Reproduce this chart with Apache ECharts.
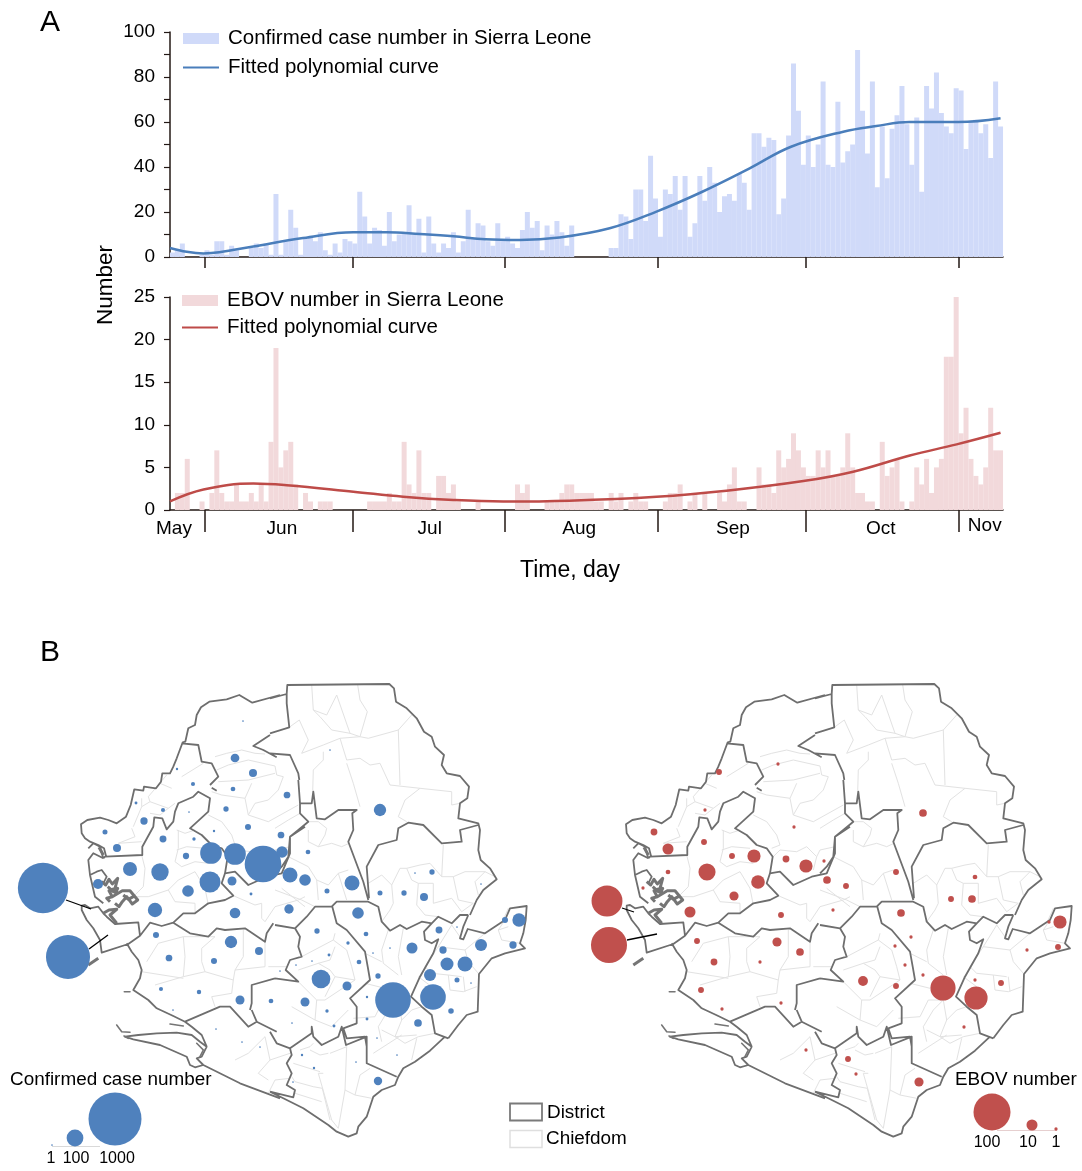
<!DOCTYPE html>
<html><head><meta charset="utf-8">
<style>html,body{margin:0;padding:0;background:#fff}#c{width:1082px;height:1171px}</style>
<script src="https://cdn.jsdelivr.net/npm/echarts@6/dist/echarts.min.js"></script>
</head><body><div id="c"></div>
<script>
// ---------- time-series data (one value per day, 25 May - 9 Nov) ----------
const confirmedCases = [2,3,6,0,0,0,1,3,1,7, 7,1,5,3,0,0,4,6,4,6, 1,28,1,7,21,13,1,8,9,7, 11,3,1,6,2,8,7,6,29,18,
 6,13,12,5,20,7,10,11,23,10, 17,2,18,6,2,6,4,11,2,7, 21,8,15,14,7,5,15,8,9,6, 4,12,20,13,16,3,14,10,16,11,
 5,14,0,0,0,0,0,0,0,4, 4,19,18,8,30,30,16,45,26,9, 30,28,36,21,36,9,15,36,25,40, 33,20,27,28,25,37,33,21,55,55,
 49,53,52,19,26,54,86,65,41,54, 40,50,78,41,40,69,42,47,50,92, 65,46,78,31,58,35,57,63,76,59,
 41,62,29,76,66,82,64,58,55,75, 74,48,60,61,55,59,44,78,58];
const ebovCounts = [0,2,2,6,0,0,1,0,2,7, 2,1,1,3,1,1,2,1,3,1, 8,19,5,7,8,3,0,2,1,0, 1,1,1,0,0,0,0,0,0,0,
 1,1,1,1,2,1,1,8,3,2, 7,2,2,0,4,4,2,3,1,0, 0,0,1,0,0,0,0,0,0,0, 3,2,3,0,0,0,1,1,1,2,
 3,3,2,2,2,2,1,1,0,2, 1,2,0,1,2,1,1,0,0,0, 1,2,2,3,0,1,2,0,2,0, 0,2,1,3,5,1,1,0,0,5,
 3,3,2,7,5,6,9,7,5,4, 4,7,5,7,4,4,5,9,5,2, 2,1,1,0,8,4,5,6,1,0, 1,5,3,6,2,5,6,18,18,25, 9,12,6,4,3,5,12,7,7];
const caseCurveDays = [0,3.4,6.8,10,16.9,27,37.2,44,50.7,57.5,64,71,79,89.2,98.7,108,117.6,126,136.6,143.3,150,160,168.5];
const caseCurveVals = [4,2.3,1.6,2.1,4.7,8.4,11,11,10.2,9.2,7.9,7.6,8.7,12.8,20.2,29,39.4,49,55.7,58.2,60,60,61.7];
const ebovCurveDays = [0,6.8,16.9,23.7,37.2,47.3,57.5,67.6,81,98.7,112.9,128.5,138.6,150.1,159.6,168.5];
const ebovCurveVals = [1,2.4,3.1,2.9,2.15,1.56,1.17,1,1.1,1.56,2.27,3.4,4.5,6.4,7.7,9.06];
const monthBoundaries = [7,37,68,99,129,160];
const monthLabels = ['May','Jun','Jul','Aug','Sep','Oct','Nov'];
const monthLabelDays = [0.8,22.7,52.7,83,114.2,144.2,165.3];

// ---------- map bubbles: [map x, map y, count] ----------
const caseSites = [[43,888,900],[68,957,690],[243,721,1],[235,758,27],[253,773,23],[233,789,8],[177,769,2],[193,784,6],[136,803,3],[226,809,10],[163,810,6],[189,812,1],[144,821,19],[248,827,13],[214,831,2],[105,832,9],[281,835,16],[163,839,17],[194,839,4],[117,848,23],[186,856,14],[211,853,167],[235,854,167],[263,864,478],[130,869,70],[160,872,107],[98,884,36],[210,882,157],[232,881,29],[188,891,48],[251,894,3],[155,910,73],[235,913,40],
[380,810,54],[330,750,1],[287,795,16],[282,852,48],[308,852,8],[290,875,80],[305,880,48],[352,883,80],[327,891,9],[380,893,9],[404,893,10],[424,897,23],[432,872,10],[415,873,1],[481,884,1],[289,909,31],[358,913,48],
[156,935,13],[169,958,16],[231,942,54],[259,951,23],[214,961,13],[161,989,6],[199,992,7],[240,1000,29],[271,1001,8],[173,1010,1],[216,1029,1],[242,1042,1],[260,1047,1],
[317,931,10],[366,934,8],[348,943,4],[329,955,3],[312,961,1],[296,965,1],[280,971,1],[321,979,124],[347,986,29],[359,962,8],[373,953,1],[390,948,1],[412,948,43],[439,930,17],[457,927,1],[443,950,19],[447,964,60],[465,964,80],[481,945,51],[505,920,13],[519,920,63],[513,945,19],[430,975,51],[457,980,9],[471,983,1],[378,976,10],[393,1000,452],[433,997,234],[367,997,2],[305,1002,29],[327,1011,4],[451,1011,11],[367,1019,3],[418,1023,21],[334,1026,3],[292,1023,1],[377,1038,1],[302,1055,2],[397,1055,1],[356,1062,1],[314,1068,2],[293,1082,1],[378,1081,25]];
const caseKey = [[52,1145,1],[75,1138,100],[115,1119,1000]];
const ebovSites = [[62,901,71],[64,945,95],[174,772,3],[233,764,1],[109,832,4],[160,810,1],[123,849,10],[159,842,3],[249,827,1],[187,856,3],[209,856,14],[241,859,4],[261,866,14],[279,861,1],[162,872,23],[123,872,2],[98,888,1],[282,880,5],[301,886,3],[213,882,15],[189,896,7],[145,912,10],[236,915,3],[288,910,1],[152,941,3],[232,942,7],[255,952,5],[169,962,4],[215,962,1],[156,990,3],[236,1003,1],[177,1009,1],
[378,813,5],[351,872,3],[430,877,2],[406,899,3],[427,899,5],[356,913,5],[515,922,14],[504,922,1],[513,947,3],[482,950,1],[366,937,1],[350,946,1],[360,965,1],[378,975,1],[318,981,8],[351,986,3],[398,988,48],[431,998,41],[430,980,1],[456,983,3],[419,1027,1],[261,1050,1],[303,1059,3],[311,1074,1],[374,1082,7]];
const ebovKey = [[447,1112,100],[487,1125,10],[511,1129,1]];
const caseLeaders = [[[66,900],[91,909]],[[89,949],[108,935]]];
const ebovLeaders = [[[77,908],[89,912]],[[82,940],[112,934]]];
const caseKeyBase = [[[52,1146],[100,1146]]];
const ebovKeyBase = [[[452,1130],[512,1130]]];

// ---------- map outlines, traced in sheet units: [sheet, x,y,x,y,...] ----------
const sheetOrigin = {5:[0,670],6:[270,670],7:[0,910],8:[270,910],9:[35,740],10:[275,780],11:[235,1030]};
const districtLines = [
[5,318,558,312,535,295,525,270,515,255,505,245,490,243,463,262,450,300,443,325,450,350,460,378,440,392,405,403,358,430,362,432,350,468,355,483,335,487,310,510,310,520,290,530,265,548,217,556,215,565,175,585,165,590,135,603,112,628,95,680,88,718,75,757,98,840,75],
[6,0,85,50,72,52,45,358,42,372,55,378,95,410,115,440,145,462,185,485,200,495,230,522,255,515,285,530,310,570,318,597,350,592,385,570,400,565,445,625,460,630,480,625,540,632,570,660,595,680,628,640,660,620,690,600,735],
[10,580,405,565,440,555,475,565,478,578,447,630,460,690,420,705,385,755,378,752,420,745,460,735,490,750,505,690,520,650,535,612,582,608,695,575,705,550,735,520,775],
[8,525,380,480,422,435,455,400,475,385,500,375,525,335,540,310,560,300,590,290,620,265,650,260,670,235,680,200,665,175,645,100,595,40,565,0,545],
[7,840,565,720,520,610,465,585,472,570,465,560,440,480,405,400,388,375,380,415,375,470,370,530,368,575,375,600,395,620,410,605,440,590,445,610,465],
[7,620,410,605,375,575,350,555,335,520,318,470,295,445,270,400,240,420,205,425,180,415,150,395,125,380,100],
[9,315,587,280,612,200,638,195,600,175,565,155,540,140,510,140,497,150,495,165,505,190,500,205,520,215,530,240,552,310,547,315,587,345,548,380,558,415,548,465,580,520,590,545,565,570,570,630,565,690,605,695,580,715,550],
[9,205,355,210,350,322,345,322,320,355,260,358,232,382,235,395,268,415,245,420,215,430,190,475,170,490,155,525,175,520,215,465,265,500,285,530,315,560,325,578,350,570,400,560,430,595,467,570,480,520,490,480,520,445,520,415,548],
[9,440,10,490,15,500,65,530,70,550,110,525,135],
[9,530,143,545,152],
[9,205,355,195,320,175,310,160,325],
[9,205,355,175,340,160,360,165,405,180,470,205,490],
[9,165,405,185,395,200,390,215,410,205,430],
[9,570,400,600,395,640,435,695,410,740,400,765,340,765,290,810,260],
[10,0,280,20,260,40,230,45,170,70,150,100,125,75,100,75,70,70,0],
[6,0,250,60,255,85,310,88,330],
[5,810,195,760,228,790,240,830,262],
[6,50,72,50,100,58,172,0,190],
[10,75,70,110,70,115,35,125,115,150,118,190,90,245,90,232,100,235,150,220,185,265,305,280,360],
[10,282,355,275,260,310,195,365,180,370,145,400,128,445,135,500,190,560,185,555,150,610,135],
[10,0,435,60,445,95,410,120,380,170,380,185,365,280,365,310,380,320,425,345,452,375,435,395,447,440,425,470,430,490,410,530,430,555,405,580,405],
[10,60,445,75,470,70,500,80,530,45,540,32,570,70,605,0,595],
[9,720,715,650,735,650,790,645,810],
[7,755,300,770,335,745,350,690,290,660,290,555,335],
[7,770,335,830,365],
[8,0,365,20,400,60,415,65,435,50,460,65,490,50,525,75,540,70,562,0,545],
[8,60,415,125,370,125,350,130,380,155,405,205,380,215,350,228,405,290,380,290,460,380,500],
[10,172,380,185,430,215,450,270,515,278,560,285,600,225,655,245,680,245,730,205,745,215,775,270,770,275,800],
[10,470,430,447,455,450,480,470,490,490,478,475,520,435,590,408,650,440,680,470,705,480,760,520,775]
];
const mangroveLines = [
[9,200,425,212,435,222,418,232,432,248,415,240,445,222,452,232,470,215,475,225,485],
[9,218,440,235,455,248,445,240,462],
[9,232,470,262,452,285,452,308,480,292,492,275,470,262,485,252,500,240,490],
[9,265,465,280,478,295,470],
[9,205,520,222,510,245,508,225,525,245,550],
[9,160,675,190,655],
[9,192,322,205,345]
];
const isletLines = [
[7,350,345,365,365,390,367],[7,372,378,385,385],[7,510,342,550,348],[7,590,400,610,420,600,440],[9,268,755,285,755]
];
const chiefdomLines = [
[9,545,90,580,75,640,60,720,78,725,105,745,110,730,150,700,180,660,190,640,225,630,175,560,165,530,155],
[9,550,125,640,120,720,100],[9,630,175,650,130],[9,520,225,560,245,590,285,600,315,575,325],
[9,640,225,700,245,790,195],[9,580,350,600,330,650,335,680,320,710,350,720,330,765,320],[9,710,350,700,390],
[9,540,50,575,40,620,30,660,40,690,42],
[9,320,345,330,385,325,440,300,465],[9,425,270,450,280,480,270],[9,430,270,430,325,420,365,440,380,480,365,520,370],[9,425,330,455,320,510,325],
[9,480,395,430,420,400,450,340,470,295,470],[9,480,395,510,445,520,495],[9,400,450,420,485,480,490,480,520],
[9,250,310,320,305],[9,290,265,300,290,250,310],[9,320,175,320,200,295,260],[9,320,200,345,185,400,205,375,225,345,220],[9,395,105,340,170,345,185],[9,440,110,505,70],[9,410,145,375,130],[9,400,205,420,190],
[9,335,665,370,610,445,590,450,650,445,710,360,735],[9,320,695,445,715],[9,445,590,540,590,500,625,500,665,510,695,445,710],[9,510,695,595,720,600,690,690,680,690,605],
[9,625,570,625,650,600,690],[9,700,680,755,680],[9,595,720,590,760,530,770,540,800],
[9,595,467,660,495,680,490,680,535,690,545,720,500,790,480,810,470],[9,740,445,810,500],
[10,0,145,40,120,75,100],[10,100,125,130,125,155,145,150,165,130,200,100,185,100,150],[10,130,200,170,190,200,200,222,190],
[10,40,230,60,240,100,260,125,300,130,360],[10,125,300,160,315,190,280,220,270],[10,0,330,80,360,120,380],[10,190,280,215,360],
[10,280,310,320,285,350,315,355,370,345,390,320,425],[10,350,315,375,265,395,265,410,300,430,310,425,375,450,405,490,410],
[10,395,265,435,255,465,250,500,290,505,195],[10,500,290,535,290,550,360],[10,430,310,475,310,475,370,530,355,560,395,595,370,550,360],
[10,535,290,570,275,630,275,600,305,610,345],[10,630,275,660,290],
[10,690,420,670,450,680,480,735,490],[10,670,450,700,440],[10,700,385,680,430],
[10,560,478,530,435],[10,530,435,490,500,570,510,580,545,610,580],[10,570,510,630,460],[10,490,500,450,560,470,580,520,585,560,590],[10,520,585,525,630,565,635,605,620],[10,565,590,570,635],[10,430,590,470,620],
[10,340,450,320,510,325,550,370,585],[10,385,445,370,530,380,585],[10,270,520,320,545],[10,270,610,330,625],
[10,235,715,300,710,325,660,370,660,340,690,310,740,320,785],[10,370,660,380,720,410,690,440,680],[10,380,720,360,770,390,790,430,770,480,760],
[10,80,530,175,480,180,460],[10,70,570,130,550,165,570,180,590,240,600],[10,175,480,215,510,230,560,240,600,150,660,125,660,70,605],[10,125,660,120,720,50,680],[10,180,590,150,650],[10,120,720,170,740,220,690],[10,180,500,165,540,130,550],
[6,125,45,130,120,150,140,185,180,240,190,270,200],[6,130,120,170,135,200,75,240,190],[6,263,45,270,90,292,125,270,200],[6,210,205,270,200,295,205,385,180,425,135],
[6,95,250,160,225,210,205,230,270,270,265,300,285,330,280,360,345,450,355,545,365,545,405,570,400],[6,88,150,60,170],[6,88,150,115,210,95,250],[6,160,245,160,270,130,300,128,365],[6,230,280,250,340,270,410],[6,385,180,390,345],[6,450,355,405,390,385,440,410,455],
[11,0,90,40,70,90,20,105,90,70,130,100,150],[11,105,90,165,70],[11,100,190,120,150,165,145],[11,170,140,180,155,235,170,262,175,285,270],[11,265,130,250,130,290,270,310,295],[11,285,70,335,50,330,180,310,295],[11,225,60,255,75,280,70],[11,175,100,255,125],[11,180,190,260,215],[11,330,180,360,195,410,205],[11,360,195,375,135,405,115],[11,415,70,500,15],[11,545,25,530,90],[11,440,0,480,20,545,15],[11,195,60,225,50,235,40]
];

function tracedPath(list){
  return list.map(function(l){
    const o = sheetOrigin[l[0]]; let d = '';
    for (let i = 1; i < l.length; i += 2) d += (i === 1 ? 'M' : 'L') + (o[0] + l[i]/3).toFixed(1) + ' ' + (o[1] + l[i+1]/3).toFixed(1);
    return d;
  }).join('');
}
const svgMap = '<svg xmlns="http://www.w3.org/2000/svg" viewBox="0 640 540 530">'
 + '<path fill="none" stroke="#e2e2e2" stroke-width="1" stroke-linejoin="round" d="' + tracedPath(chiefdomLines) + '"/>'
 + '<path fill="none" stroke="#6e6e6e" stroke-width="1.8" stroke-linejoin="round" d="' + tracedPath(districtLines) + '"/>'
 + '<path fill="none" stroke="#757575" stroke-width="3" stroke-linejoin="round" d="' + tracedPath(mangroveLines) + '"/>'
 + '<path fill="none" stroke="#757575" stroke-width="1.6" stroke-linecap="round" d="' + tracedPath(isletLines) + '"/>'
 + '</svg>';
echarts.registerMap('sierraLeone', {svg: svgMap});

const FONT = '"Liberation Sans", Arial, sans-serif';
const AXIS = '#231815';
const BLUE = '#4f81bd', RED = '#c0504d';
const chart = echarts.init(document.getElementById('c'), null, {renderer:'canvas'});

function yAxisOf(gridIndex, max, interval, labelStep){
  return {type:'value', gridIndex, min:0, max, interval, splitLine:{show:false},
    axisLine:{show:true, lineStyle:{color:AXIS, width:1.5}},
    axisTick:{show:true, length:6, inside:false, lineStyle:{color:AXIS, width:1.2}},
    axisLabel:{margin:15, padding:[4,0,0,0], color:'#000', fontFamily:FONT, fontSize:19, formatter:function(v){return v % labelStep === 0 ? String(v) : '';}}};
}
function xAxisOf(gridIndex, tick, labels){
  return {type:'value', gridIndex, min:0, max:169, splitLine:{show:false},
    axisLine:{show:true, onZero:false, lineStyle:{color:AXIS, width:1.5}},
    axisTick:{show:true, length:tick, customValues:monthBoundaries, lineStyle:{color:AXIS, width:1.5}},
    axisLabel: labels ? {show:true, customValues:monthLabelDays, margin:28, verticalAlign:'bottom', color:'#000', fontFamily:FONT, fontSize:19, showMinLabel:true, showMaxLabel:true, hideOverlap:false,
      rich:{up:{fontFamily:FONT, fontSize:19, color:'#000', padding:[0,0,3,0]}},
      formatter:function(v){ const i = monthLabelDays.indexOf(v); if (i < 0) return ''; return monthLabels[i] === 'Nov' ? '{up|Nov}' : monthLabels[i]; }} : {show:false}};
}
function dayBars(vals){ return vals.map(function(v,i){ return [i + 0.5, v]; }); }
function curve(days, vals){ return days.map(function(d,i){ return [d, vals[i]]; }); }
function sizeCase(v){ return 1.676 * Math.sqrt(v[2]); }
function sizeEbov(v){ return 3.3 * Math.pow(v[2], 0.525); }
function text(x,y,t,size,extra){
  return Object.assign({type:'text', x, y, z:50, style:{text:t, fontFamily:FONT, fontSize:size, fill:'#000', textAlign:'left', textVerticalAlign:'middle'}}, extra||{});
}
function cText(x,y,t,size){ const e = text(x,y,t,size); e.style.textAlign='center'; return e; }
function legendOf(left, top, names, gap){
  return {left, top, padding:0, orient:'vertical', selectedMode:false, itemWidth:36, itemHeight:11, itemGap:gap,
    textStyle:{fontFamily:FONT, fontSize:20.5, color:'#000', padding:[0,0,0,4]}, data:names};
}
const caseBarName='Confirmed case number in Sierra Leone', caseLineName='Fitted polynomial curve';
const ebovBarName='EBOV number in Sierra Leone', ebovLineName='Fitted polynomial curve ';

chart.setOption({
  animation:false, backgroundColor:'#fff',
  grid:[{left:170, width:833, top:32, height:225},{left:170, width:833, top:297, height:213}],
  xAxis:[xAxisOf(0,11,false), xAxisOf(1,22,true)],
  yAxis:[yAxisOf(0,100,10,20), yAxisOf(1,25,5,5)],
  legend:[
    legendOf(182,28,[{name:caseBarName,icon:'rect'},{name:caseLineName,itemStyle:{opacity:0}}],8),
    legendOf(181,290,[{name:ebovBarName,icon:'rect'},{name:ebovLineName,itemStyle:{opacity:0}}],6)
  ],
  geo:[
    {map:'sierraLeone', left:0, top:640, width:540, height:530, aspectScale:1, roam:false, silent:true, label:{show:false}},
    {map:'sierraLeone', left:545, top:640, width:540, height:530, aspectScale:1, roam:false, silent:true, label:{show:false}}
  ],
  series:[
    {name:caseBarName, type:'bar', xAxisIndex:0, yAxisIndex:0, barWidth:5, itemStyle:{color:'#d0daf9'}, data:dayBars(confirmedCases), silent:true},
    {name:caseLineName, type:'line', xAxisIndex:0, yAxisIndex:0, smooth:0.4, symbol:'none', lineStyle:{color:'#4a7ebb', width:2.5}, itemStyle:{color:'#4a7ebb'}, data:curve(caseCurveDays,caseCurveVals), z:5},
    {name:ebovBarName, type:'bar', xAxisIndex:1, yAxisIndex:1, barWidth:5, itemStyle:{color:'#f2d9db'}, data:dayBars(ebovCounts), silent:true},
    {name:ebovLineName, type:'line', xAxisIndex:1, yAxisIndex:1, smooth:0.4, symbol:'none', lineStyle:{color:'#be4b48', width:2.5}, itemStyle:{color:'#be4b48'}, data:curve(ebovCurveDays,ebovCurveVals), z:5},
    {type:'lines', coordinateSystem:'geo', geoIndex:0, polyline:false, silent:true, lineStyle:{color:'#000', width:1.3, opacity:1}, data:caseLeaders.map(function(c){return {coords:c};}), z:3},
    {type:'lines', coordinateSystem:'geo', geoIndex:1, polyline:false, silent:true, lineStyle:{color:'#000', width:1.3, opacity:1}, data:ebovLeaders.map(function(c){return {coords:c};}), z:3},
    {type:'lines', coordinateSystem:'geo', geoIndex:0, polyline:false, silent:true, lineStyle:{color:'#d9d9d9', width:1, opacity:1}, data:caseKeyBase.map(function(c){return {coords:c};}), z:3},
    {type:'lines', coordinateSystem:'geo', geoIndex:1, polyline:false, silent:true, lineStyle:{color:'#e6cfcf', width:1, opacity:1}, data:ebovKeyBase.map(function(c){return {coords:c};}), z:3},
    {type:'scatter', coordinateSystem:'geo', geoIndex:0, symbolSize:sizeCase, itemStyle:{color:BLUE, opacity:1}, data:caseSites.concat(caseKey), silent:true, z:6},
    {type:'scatter', coordinateSystem:'geo', geoIndex:1, symbolSize:sizeEbov, itemStyle:{color:RED, opacity:1}, data:ebovSites.concat(ebovKey), silent:true, z:6}
  ],
  graphic:[
    text(40,23,'A',30), text(40,653,'B',30),
    cText(570,571,'Time, day',23),
    {type:'text', x:106, y:285, rotation:Math.PI/2, z:50, style:{text:'Number', fontFamily:FONT, fontSize:22.5, fill:'#000', textAlign:'center', textVerticalAlign:'middle'}},
    text(10,1080,'Confirmed case number',18.9), text(955,1080,'EBOV number',18.9),
    cText(51,1159,'1',16), cText(76,1159,'100',16), cText(117,1159,'1000',16),
    cText(987,1143,'100',16), cText(1028,1143,'10',16), cText(1056,1143,'1',16),
    {type:'rect', shape:{x:510,y:1103.5,width:32,height:17}, z:50, style:{fill:'#fff', stroke:'#7a7a7a', lineWidth:1.8}},
    {type:'rect', shape:{x:510,y:1130.5,width:32,height:17}, z:50, style:{fill:'#fff', stroke:'#dfdfdf', lineWidth:1.5}},
    text(547,1113,'District',18.9), text(546,1139,'Chiefdom',18.9)
  ]
});
</script></body></html>
